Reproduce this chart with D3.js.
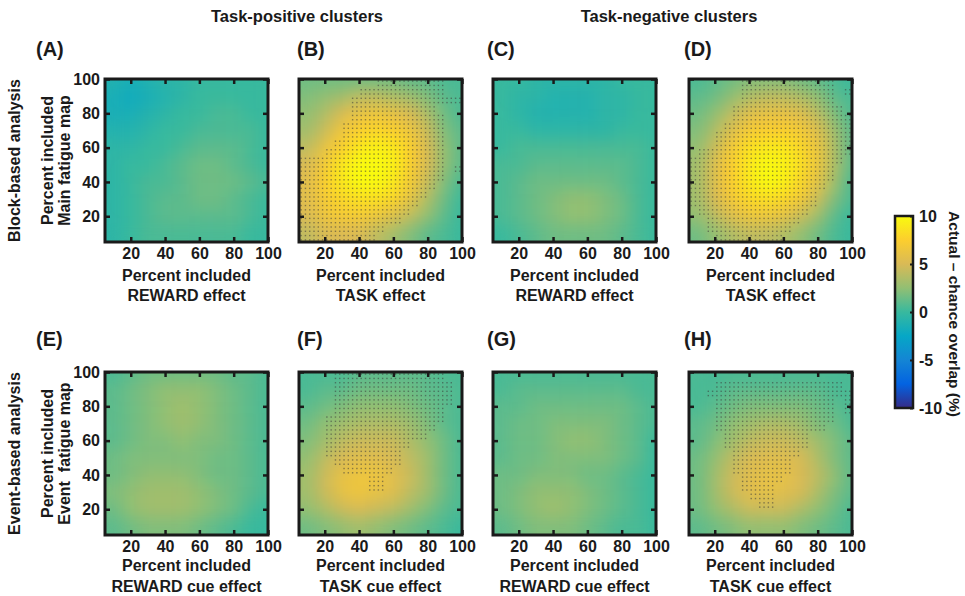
<!DOCTYPE html>
<html>
<head>
<meta charset="utf-8">
<script src="https://cdn.jsdelivr.net/npm/d3@7"></script>
<style>
  body { margin: 0; background: #fff; }
  text { font-family: "Liberation Sans", Arial, sans-serif; font-weight: bold; fill: #1a1a1a; font-size: 16px; }
  .letter { font-size: 20px; }
</style>
</head>
<body>
<svg id="fig" width="965" height="596"></svg>
<script>
// cell centres (percent included), x left->right, y top->bottom
var cellPct = [10, 20, 30, 40, 50, 60, 70, 80, 90, 100];
var rowPct = [100, 90, 80, 70, 60, 50, 40, 30, 20, 10];
var tickVals = [20, 40, 60, 80, 100];
var barTicks = [10, 5, 0, -5, -10];

// actual - chance overlap (%), rows from y=100 down to y=10
var valA = [
  [-1, -1.5, -1, -0.5, -0.5, 0, 0, 0, 0, 0],
  [-1.5, -2, -1.5, -1, -0.5, 0, 0, 0, 0, 0],
  [-1.5, -1.5, -1, -0.5, 0, 0, 0.5, 0.5, 0, 0],
  [-1, -1, -0.5, 0, 0, 0.5, 0.5, 0.5, 0.5, 0],
  [-0.5, -0.5, 0, 0, 0.5, 1, 1, 1, 0.5, 0],
  [-0.5, 0, 0, 0.5, 1, 1.5, 1.5, 1, 0.5, 0],
  [-0.5, 0, 0.5, 0.5, 1, 1.5, 1.5, 1.5, 1, 0.5],
  [-0.5, 0, 0.5, 1, 1, 1.5, 1.5, 1, 0.5, 0],
  [-0.5, 0, 0.5, 1, 1, 1, 1, 1, 0.5, 0],
  [-0.5, 0, 0.5, 0.5, 0.5, 0.5, 0.5, 0.5, 0, 0]
];
var valB = [
  [1.5, 1.5, 1.5, 1.5, 1.5, 1.5, 1, 1, 0.5, 0.5],
  [2, 2.5, 3, 4, 4, 3.5, 3, 2, 1, 0.5],
  [2.5, 3.5, 5, 6, 6.5, 6, 5, 3.5, 1.5, 0.5],
  [3, 4.5, 6.5, 7.5, 8, 7.5, 6.5, 4.5, 2, 1],
  [4, 6, 7.5, 9, 9.5, 9, 7.5, 5, 2.5, 1],
  [5, 7, 9, 10, 10, 9.5, 7.5, 5, 2.5, 1],
  [5.5, 7.5, 9, 10, 10, 9, 7, 4.5, 2, 0.5],
  [5.5, 7, 8, 8.5, 8.5, 8, 6, 3.5, 1.5, 0],
  [5, 6.5, 7, 7, 6.5, 5.5, 4, 2.5, 1, 0],
  [4, 5, 5, 5, 4, 3, 2, 1, 0.5, 0]
];
var valC = [
  [0, 0, -0.5, -0.5, -0.5, -0.5, -0.5, 0, 0, 0],
  [0, -0.5, -0.5, -1, -1, -1, -0.5, -0.5, 0, 0],
  [0, -0.5, -1, -1, -1, -1, -0.5, -0.5, 0, 0],
  [0, 0, -0.5, -0.5, -0.5, -0.5, -0.5, 0, 0, 0],
  [0, 0.5, 0.5, 0.5, 0.5, 0.5, 0.5, 0.5, 0.5, 0],
  [0.5, 0.5, 1, 1, 1, 1, 1, 1, 0.5, 0],
  [0.5, 1, 1.5, 1.5, 1.5, 1.5, 1.5, 1, 0.5, 0],
  [0.5, 1, 1.5, 2, 2.5, 2.5, 2, 1.5, 0.5, 0],
  [0.5, 1, 1.5, 2, 2.5, 2.5, 2, 1.5, 0.5, 0],
  [0, 0.5, 1, 1.5, 1.5, 1.5, 1.5, 1, 0.5, 0]
];
var valD = [
  [0.5, 1, 1.5, 2, 2, 2, 1.5, 1, 0.5, 0],
  [1, 1.5, 2.5, 3.5, 4, 4, 3.5, 2.5, 1, 0.5],
  [1.5, 2.5, 4, 5.5, 6, 6, 5.5, 4, 2, 0.5],
  [2, 3.5, 5.5, 7, 7.5, 7.5, 7, 5.5, 3, 1],
  [2.5, 4.5, 7, 8.5, 9, 9, 8, 6.5, 3.5, 1],
  [3, 5.5, 7.5, 9, 10, 9.5, 8.5, 6.5, 3.5, 1],
  [3, 5.5, 7.5, 9, 10, 9.5, 8, 6, 3, 0.5],
  [3, 5, 7, 8, 8.5, 8, 7, 4.5, 2, 0.5],
  [2.5, 4, 5.5, 6.5, 6.5, 6, 4.5, 3, 1, 0],
  [1.5, 2.5, 3.5, 4, 4, 3.5, 2.5, 1.5, 0.5, 0]
];
var valE = [
  [0.5, 1, 1.5, 1.5, 1.5, 1.5, 1.5, 1, 1, 0.5],
  [1, 1.5, 2, 2.5, 2.5, 2.5, 2, 1.5, 1, 0.5],
  [1, 1.5, 2, 2.5, 3, 2.5, 2, 1.5, 1, 0.5],
  [1, 1.5, 2, 2.5, 3, 2.5, 2, 1.5, 1, 0.5],
  [1, 1.5, 2, 2, 2.5, 2, 2, 1.5, 1, 0.5],
  [1.5, 2, 2, 2, 2, 2, 1.5, 1.5, 1, 0.5],
  [1.5, 2, 2.5, 2.5, 2.5, 2, 1.5, 1.5, 1, 0.5],
  [2, 2.5, 3, 3, 3, 2.5, 2, 1.5, 1, 0.5],
  [1.5, 2.5, 3, 3, 3, 2.5, 2, 1.5, 0.5, 0],
  [1, 1.5, 2, 2, 2, 1.5, 1, 0.5, 0, 0]
];
var valF = [
  [0.5, 0.5, 0.5, 1, 1, 1, 1, 1, 0.5, 0.5],
  [0.5, 1, 1, 1.5, 1.5, 1.5, 1.5, 1, 1, 0.5],
  [1, 1.5, 2, 2.5, 2.5, 2.5, 2, 1.5, 1, 0.5],
  [1.5, 2.5, 3, 3.5, 3.5, 3.5, 3, 2, 1, 0.5],
  [2, 3, 4, 4.5, 4.5, 4.5, 3.5, 2.5, 1.5, 0.5],
  [2.5, 4, 5, 5.5, 5.5, 5, 4, 3, 1.5, 0.5],
  [3, 4.5, 6, 6.5, 6.5, 5.5, 4.5, 3, 1.5, 0.5],
  [3, 4.5, 6, 6.5, 6, 5.5, 4, 3, 1.5, 0.5],
  [2.5, 3.5, 4.5, 5, 4.5, 4, 3, 2, 1, 0.5],
  [1.5, 2, 2.5, 3, 2.5, 2, 1.5, 1, 0.5, 0]
];
var valG = [
  [0.5, 0.5, 0.5, 0.5, 0.5, 0.5, 0.5, 0.5, 0.5, 0.5],
  [0.5, 1, 1, 1, 1, 1, 1, 1, 0.5, 0.5],
  [1, 1, 1.5, 1.5, 1.5, 1.5, 1.5, 1.5, 1, 0.5],
  [1, 1.5, 1.5, 2, 2, 2, 2, 1.5, 1, 0.5],
  [1, 1.5, 1.5, 2, 2.5, 2.5, 2, 1.5, 1, 0],
  [1, 1.5, 1.5, 2, 2, 2, 2, 1.5, 1, 0],
  [1.5, 1.5, 2, 2, 2, 1.5, 1.5, 1, 0.5, 0],
  [1.5, 2, 2.5, 2.5, 2.5, 2, 1.5, 1, 0.5, 0],
  [1.5, 2, 2.5, 3, 2.5, 2, 1.5, 1, 0.5, 0],
  [1, 1.5, 2, 2, 2, 1.5, 1, 0.5, 0.5, 0]
];
var valH = [
  [0.5, 0.5, 0.5, 0.5, 0.5, 0.5, 0.5, 0.5, 0.5, 0.5],
  [0.5, 0.5, 1, 1, 1, 1, 1, 1, 0.5, 0.5],
  [0.5, 1, 1.5, 2, 2, 2, 2, 1.5, 1, 0.5],
  [1, 1.5, 2.5, 3, 3.5, 3.5, 3, 2, 1.5, 0.5],
  [1, 2, 3, 4, 4.5, 4.5, 4, 3, 2, 1],
  [1.5, 2.5, 4, 5, 5.5, 5.5, 5, 3.5, 2, 1],
  [1.5, 3, 4.5, 5.5, 6, 6, 5, 4, 2.5, 1],
  [1.5, 3, 4.5, 5.5, 6, 5.5, 5, 3.5, 2, 1],
  [1.5, 2.5, 3.5, 4.5, 4.5, 4.5, 3.5, 2.5, 1.5, 0.5],
  [1, 1.5, 2, 2.5, 2.5, 2.5, 2, 1.5, 1, 0.5]
];

// significant cells: per 5%-row (from top), ranges of 5%-columns [first, last]
var sigB = [
  [[9, 16]], [[7, 16]], [[6, 18]], [[6, 15]], [[6, 16]], [[5, 16]], [[5, 16]],
  [[4, 16]], [[3, 16]], [[0, 16]], [[0, 16], [18, 18]], [[0, 16]], [[0, 15]],
  [[0, 14]], [[0, 13]], [[0, 12]], [[0, 11]], [[0, 9]], [[0, 8]]
];
var sigD = [
  [[6, 16]], [[6, 16], [18, 18]], [[6, 16]], [[5, 17]], [[5, 18]], [[4, 18]], [[3, 18]],
  [[3, 18]], [[1, 18]], [[0, 17]], [[0, 16]], [[0, 16]], [[0, 15]],
  [[0, 14]], [[0, 14]], [[1, 13]], [[2, 12]], [[2, 11]], [[3, 10]]
];
var sigF = [
  [[4, 16]], [[4, 17]], [[4, 17]], [[4, 17]], [[4, 16]], [[3, 16]], [[3, 15]],
  [[3, 14]], [[3, 12]], [[3, 11]], [[4, 11]], [[5, 10]], [[8, 9]],
  [[8, 9]], [], [], [], [], []
];
var sigH = [
  [], [[3, 17]], [[2, 18]], [[3, 16], [18, 18]], [[3, 16], [18, 18]], [[3, 16]], [[3, 15]],
  [[4, 13]], [[4, 13]], [[5, 12]], [[5, 11]], [[5, 11]], [[6, 10]],
  [[6, 9]], [[7, 9]], [[8, 9]], [], [], []
];

var panels = [
  {id: "(A)", row: 0, col: 0, vals: valA, sig: null, xlab: "REWARD effect"},
  {id: "(B)", row: 0, col: 1, vals: valB, sig: sigB, xlab: "TASK effect"},
  {id: "(C)", row: 0, col: 2, vals: valC, sig: null, xlab: "REWARD effect"},
  {id: "(D)", row: 0, col: 3, vals: valD, sig: sigD, xlab: "TASK effect"},
  {id: "(E)", row: 1, col: 0, vals: valE, sig: null, xlab: "REWARD cue effect"},
  {id: "(F)", row: 1, col: 1, vals: valF, sig: sigF, xlab: "TASK cue effect"},
  {id: "(G)", row: 1, col: 2, vals: valG, sig: null, xlab: "REWARD cue effect"},
  {id: "(H)", row: 1, col: 3, vals: valH, sig: sigH, xlab: "TASK cue effect"}
];
var rowNames = ["Block-based analysis", "Event-based analysis"];
var yNames = ["Main fatigue map", "Event  fatigue map"];

var svg = d3.select("#fig");
var size = 163;
var colX = [105, 299, 493, 689], rowY = [79, 372];
var letterX = [36, 297, 487, 684], letterY = [56, 346];
var labOff = [[39, 59], [36, 57]];

// parula-like colour map
var color = d3.scaleLinear()
  .domain([-10, -7.5, -5, -2.5, 0, 2.5, 5, 7.5, 10])
  .range(["#352a87", "#0363e1", "#1485d4", "#06a7c6", "#38b99e", "#92bf73", "#d9ba56", "#fcce2e", "#f9fb0e"])
  .clamp(true);

var defs = svg.append("defs");
defs.append("clipPath").attr("id", "clip")
  .append("rect").attr("width", size).attr("height", size);
var filt = defs.append("filter").attr("id", "smooth")
  .attr("color-interpolation-filters", "sRGB");
filt.append("feGaussianBlur").attr("stdDeviation", 8);
filt.append("feComponentTransfer").append("feFuncA")
  .attr("type", "table").attr("tableValues", "1 1");

var x = d3.scaleLinear().domain([5, 100]).range([0, size]);
var y = d3.scaleLinear().domain([5, 100]).range([size, 0]);

panels.forEach(function(p) {
  var g = svg.append("g")
    .attr("transform", "translate(" + colX[p.col] + "," + rowY[p.row] + ")");

  var cells = [];
  p.vals.forEach(function(r, i) {
    r.forEach(function(v, j) { cells.push({cx: cellPct[j], cy: rowPct[i], v: v}); });
  });

  g.append("g").attr("clip-path", "url(#clip)")
    .append("g").attr("filter", "url(#smooth)")
    .selectAll("rect").data(cells).join("rect")
    .attr("x", function(d) { return x(d.cx - 5); })
    .attr("y", function(d) { return y(d.cy + 5); })
    .attr("width", function(d) { return x(d.cx + 5) - x(d.cx - 5); })
    .attr("height", function(d) { return y(d.cy - 5) - y(d.cy + 5); })
    .attr("fill", function(d) { return color(d.v); });

  if (p.sig) {
    var dots = [];
    p.sig.forEach(function(ranges, j) {
      ranges.forEach(function(rg) {
        for (var i = rg[0]; i <= rg[1]; i++) {
          [1.25, 3.75].forEach(function(dx) {
            [1.25, 3.75].forEach(function(dy) {
              dots.push({px: 5 + 5 * i + dx, py: 100 - 5 * j - dy});
            });
          });
        }
      });
    });
    g.append("g").selectAll("rect").data(dots).join("rect")
      .attr("x", function(d) { return x(d.px) - 0.7; })
      .attr("y", function(d) { return y(d.py) - 0.7; })
      .attr("width", 1.4).attr("height", 1.4)
      .attr("fill", "#3a3a3a").attr("opacity", 0.55);
  }

  g.append("rect").attr("width", size).attr("height", size)
    .attr("fill", "none").attr("stroke", "#1a1a1a").attr("stroke-width", 3);

  var axes = [
    g.append("g").attr("transform", "translate(0," + size + ")")
      .call(d3.axisBottom(x).tickValues(tickVals).tickSize(-5).tickPadding(6)),
    g.append("g").call(d3.axisTop(x).tickValues(tickVals).tickSize(-5).tickFormat("")),
    g.append("g").call(d3.axisLeft(y).tickValues(tickVals).tickSize(-5).tickPadding(5)
      .tickFormat(p.col === 0 ? null : "")),
    g.append("g").attr("transform", "translate(" + size + ",0)")
      .call(d3.axisRight(y).tickValues(tickVals).tickSize(-5).tickFormat(""))
  ];
  axes.forEach(function(a) {
    a.attr("font-size", null).attr("font-family", null);
    a.select(".domain").remove();
    a.selectAll(".tick line").attr("stroke", "#1a1a1a").attr("stroke-width", 2.5);
  });

  g.append("text").attr("x", size / 2).attr("y", size + labOff[p.row][0])
    .attr("text-anchor", "middle").text("Percent included");
  g.append("text").attr("x", size / 2).attr("y", size + labOff[p.row][1])
    .attr("text-anchor", "middle").text(p.xlab);

  svg.append("text").attr("class", "letter")
    .attr("x", letterX[p.col]).attr("y", letterY[p.row]).text(p.id);
});

// row labels on the left
rowY.forEach(function(top, r) {
  var cy = top + size / 2;
  [[20, rowNames[r]], [53, "Percent included"], [70, yNames[r]]].forEach(function(t) {
    svg.append("text")
      .attr("transform", "translate(" + t[0] + "," + cy + ") rotate(-90)")
      .attr("text-anchor", "middle").style("white-space", "pre").text(t[1]);
  });
});

// column headers
svg.append("text").attr("x", 297).attr("y", 22).attr("text-anchor", "middle")
  .style("font-size", "16.5px").text("Task-positive clusters");
svg.append("text").attr("x", 669).attr("y", 22).attr("text-anchor", "middle")
  .style("font-size", "16.5px").text("Task-negative clusters");

// colour bar
var cb = {x: 895, y: 216, w: 18, h: 192};
var cy = d3.scaleLinear().domain([-10, 10]).range([cb.y + cb.h, cb.y]);
var grad = defs.append("linearGradient").attr("id", "cbgrad")
  .attr("x1", 0).attr("y1", 1).attr("x2", 0).attr("y2", 0);
grad.selectAll("stop").data(color.domain()).join("stop")
  .attr("offset", function(d) { return (d + 10) / 20; })
  .attr("stop-color", function(d) { return color(d); });
svg.append("rect").attr("x", cb.x).attr("y", cb.y).attr("width", cb.w).attr("height", cb.h)
  .attr("fill", "url(#cbgrad)").attr("stroke", "#1a1a1a").attr("stroke-width", 2.5);
var cax = svg.append("g").attr("transform", "translate(" + (cb.x + cb.w) + ",0)")
  .call(d3.axisRight(cy).tickValues(barTicks).tickSize(-3).tickPadding(6)
    .tickFormat(function(d) { return String(d); }));
cax.attr("font-size", null).attr("font-family", null);
cax.select(".domain").remove();
cax.selectAll(".tick line").attr("stroke", "#1a1a1a").attr("stroke-width", 2);

svg.append("text")
  .attr("transform", "translate(949," + (cb.y + cb.h / 2 + 2) + ") rotate(90)")
  .attr("text-anchor", "middle").style("font-size", "15.5px")
  .text("Actual \u2013 chance overlap (%)");
</script>
</body>
</html>
